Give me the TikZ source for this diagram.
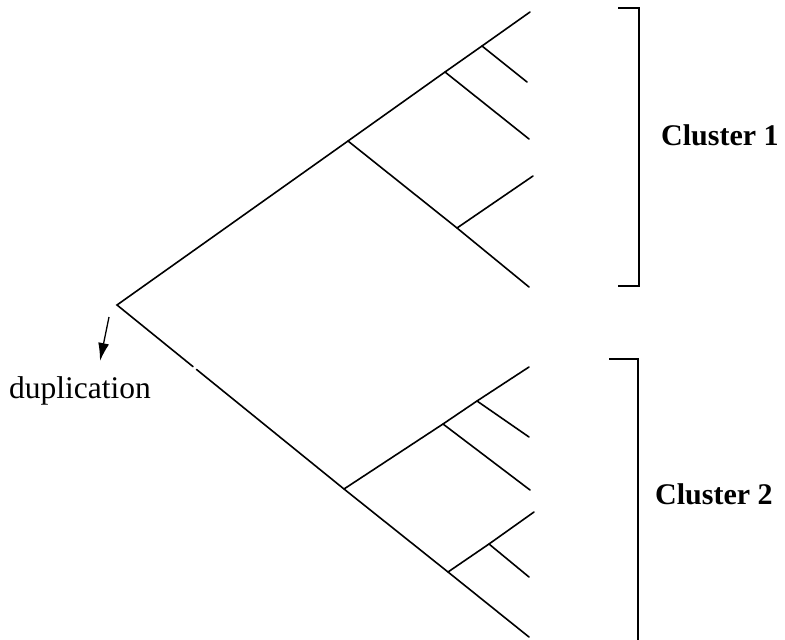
\documentclass[tikz,border=0pt]{standalone}
\usepackage{fontspec}
\setmainfont{Liberation Serif}
\usetikzlibrary{arrows.meta,calc}
\begin{document}
\begin{tikzpicture}[x=1pt,y=-1pt,
  branch/.style={line width=1.6pt,line cap=round},
  bracket/.style={line width=1.6pt},
  lab/.style={inner sep=0pt,anchor=base west},
  clab/.style={lab,font=\fontsize{30}{30}\selectfont\bfseries}]
\useasboundingbox (0,0) rectangle (785,640);
% tree coordinates
\coordinate (r) at (117,305);
% cluster 1
\coordinate (c) at (348,141);
\coordinate (b) at (445,72);
\coordinate (a) at (482,46);
\coordinate (t1) at (530,12);
\coordinate (t2) at (527,82);
\coordinate (t3) at (529,139);
\coordinate (d) at (457,228);
\coordinate (t4) at (533,176);
\coordinate (t5) at (529,287);
% cluster 2
\coordinate (f) at (344,489);
\coordinate (g) at (443,424);
\coordinate (h) at (477,401);
\coordinate (u1) at (529,367);
\coordinate (u2) at (529,437);
\coordinate (u3) at (530,490);
\coordinate (e) at (448,572);
\coordinate (i) at (489,544);
\coordinate (u4) at (534,512);
\coordinate (u5) at (529,577);
\coordinate (u6) at (529,637);
\coordinate (gp1) at ($(r)!0.335!(f)$);
\coordinate (gp2) at ($(r)!0.35!(f)$);
% branches
\draw[branch] (t1) -- (a) -- (b) -- (c) -- (r) -- (gp1);
\draw[branch] (gp2) -- (f) -- (e) -- (u6);
\draw[branch] (a) -- (t2);
\draw[branch] (b) -- (t3);
\draw[branch] (c) -- (d) -- (t5);
\draw[branch] (d) -- (t4);
\draw[branch] (f) -- (g) -- (h) -- (u1);
\draw[branch] (h) -- (u2);
\draw[branch] (g) -- (u3);
\draw[branch] (e) -- (i) -- (u4);
\draw[branch] (i) -- (u5);
% brackets
\coordinate (k1a) at (618,8);
\coordinate (k1b) at (639,8);
\coordinate (k1c) at (639,286);
\coordinate (k1d) at (618,286);
\draw[bracket] (k1a) -- (k1b) -- (k1c) -- (k1d);
\coordinate (k2a) at (609,359);
\coordinate (k2b) at (638,359);
\coordinate (k2c) at (638,642);
\draw[bracket] (k2a) -- (k2b) -- (k2c);
% duplication arrow
\coordinate (ds) at (109,317);
\coordinate (de) at (100,361);
\draw[line width=1.3pt,-{Latex[length=18pt,width=11pt]}] (ds) -- (de);
% labels
\node[lab,font=\fontsize{31.5}{32}\selectfont] (dup) at (9,398) {duplication};
\node[clab] (cl1) at (661,145) {Cluster 1};
\node[clab] (cl2) at (655,504) {Cluster 2};
\end{tikzpicture}
\end{document}
